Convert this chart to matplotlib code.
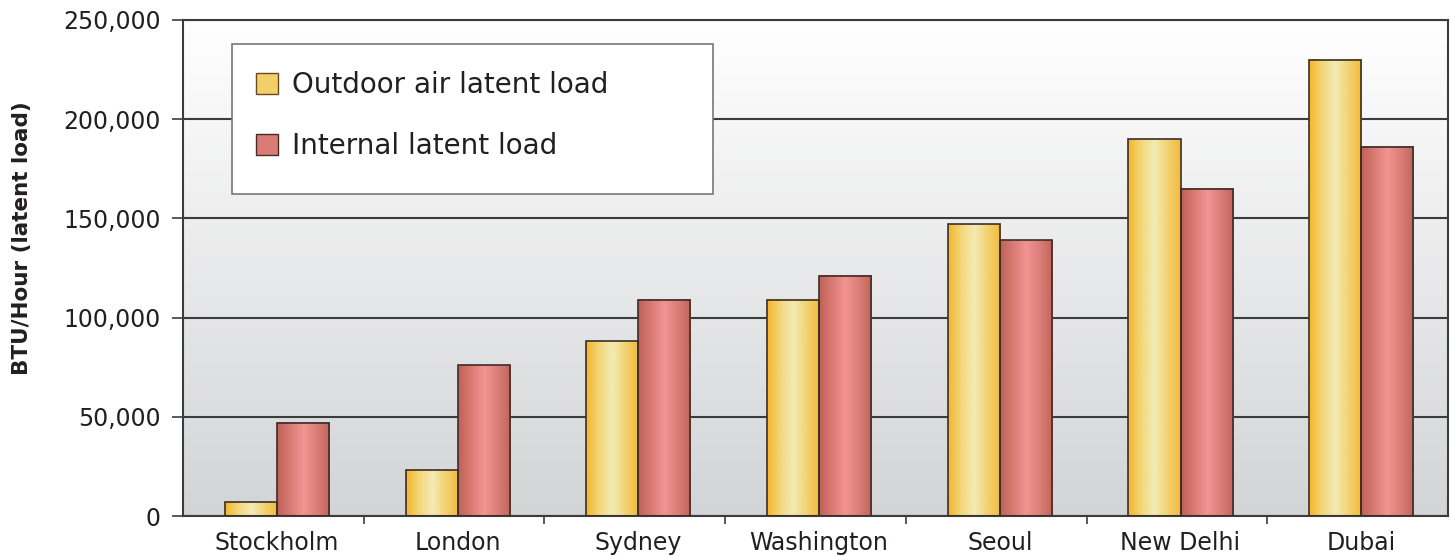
import numpy as np
import matplotlib.pyplot as plt
from matplotlib.colors import LinearSegmentedColormap
from matplotlib.patches import Patch, Rectangle

cities = ["Stockholm", "London", "Sydney", "Washington", "Seoul", "New Delhi", "Dubai"]
outdoor = [7000, 23000, 88000, 109000, 147000, 190000, 230000]
internal = [47000, 76000, 109000, 121000, 139000, 165000, 186000]
series_names = ["Outdoor air latent load", "Internal latent load"]

plt.rcParams['font.family'] = ['DejaVu Sans']
txt = '#231f20'

yellow = LinearSegmentedColormap.from_list(
    'yel', ['#f4b52a', '#f3d77a', '#f3ebb4', '#f3d272', '#f2ba38'])
red = LinearSegmentedColormap.from_list(
    'red', ['#bf6058', '#d97a74', '#f29593', '#db7e78', '#c0645b'])
grad = np.linspace(0, 1, 256).reshape(1, -1)

fig = plt.figure(figsize=(14.53, 5.56), dpi=100)
ax = fig.add_axes([183 / 1453, 1 - 516 / 556, 1265 / 1453, 496 / 556])

x = np.arange(len(cities))
w = 0.288
off = 0.02

# background: vertical gradient white -> light grey
bg = LinearSegmentedColormap.from_list('bg', ['#d3d4d6', '#ffffff'])
ax.imshow(np.linspace(0, 1, 256).reshape(-1, 1), cmap=bg, origin='lower',
          extent=[-0.5, len(cities) - 0.5, 0, 250000], aspect='auto', zorder=0)

ax.yaxis.grid(True, color='#3c3c3c', linewidth=1.5, zorder=1)
ax.set_axisbelow(True)

for vals, cmap, shift in [(outdoor, yellow, -w / 2), (internal, red, w / 2)]:
    bars = ax.bar(x + off + shift, vals, width=w, facecolor='none',
                  edgecolor='#3a2e28', linewidth=1.2, zorder=3)
    for b in bars:
        x0, y0 = b.get_x(), b.get_y()
        ax.imshow(grad, cmap=cmap, extent=[x0, x0 + b.get_width(), y0, y0 + b.get_height()],
                  aspect='auto', zorder=2, interpolation='bilinear')

ax.set_xlim(-0.5, len(cities) - 0.5)
ax.set_ylim(0, 250000)

ax.set_yticks(np.arange(0, 250001, 50000))
ax.set_yticklabels([f"{v:,}" for v in range(0, 250001, 50000)])
ax.set_xticks(x + off)
ax.set_xticklabels(cities)
ax.set_xticks(np.arange(0.5, len(cities) - 0.5), minor=True)
ax.tick_params(axis='x', which='major', length=0, pad=11, labelsize=17, labelcolor=txt)
ax.tick_params(axis='x', which='minor', length=6, width=1.2, color='#3c3c3c')
ax.tick_params(axis='y', length=8, width=1.2, color='#3c3c3c', pad=8,
               labelsize=17, labelcolor=txt)
for s in ax.spines.values():
    s.set_color('#3c3c3c')
    s.set_linewidth(1.5)

fig.text(22 / 1453, 1 - 238 / 556, "BTU/Hour (latent load)", rotation=90,
         ha='center', va='center', fontsize=15.5, fontweight='bold', color=txt)

# legend box
ax.add_patch(Rectangle((49 / 1265, 1 - 174 / 496), 481 / 1265, 150 / 496,
                       transform=ax.transAxes, facecolor='white',
                       edgecolor='#777777', linewidth=1.2, zorder=4))
handles = [Patch(facecolor='#f3cf6a', edgecolor='#6a4a20'),
           Patch(facecolor='#d97c76', edgecolor='#4a2a28')]
leg = ax.legend(handles, series_names, loc='center left',
                bbox_to_anchor=((256 - 183) / 1265, 1 - (115.5 - 20) / 496),
                fontsize=20, frameon=False, borderpad=0, labelspacing=1.2,
                handlelength=0.8, handleheight=0.8, handletextpad=0.5,
                borderaxespad=0)
for t in leg.get_texts():
    t.set_color(txt)
leg.set_zorder(5)

fig.savefig("out.png", dpi=100)
